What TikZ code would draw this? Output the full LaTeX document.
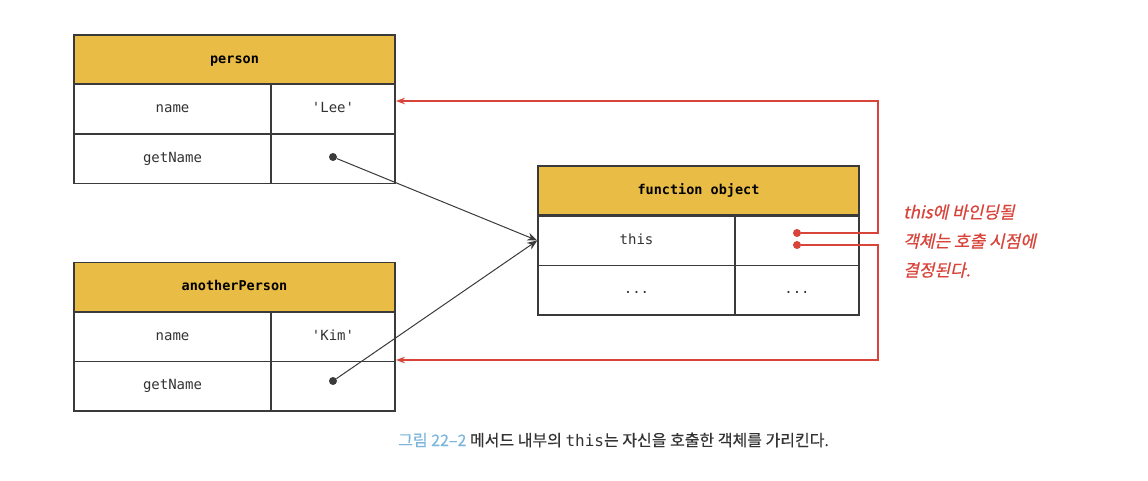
\documentclass[tikz,border=0pt]{standalone}
\usepackage{fontspec}
\setmainfont{Noto Sans CJK KR}
\setmonofont{DejaVu Sans Mono}
\newfontfamily\redkr[FakeSlant=0.22,FakeBold=0.6]{Noto Sans CJK KR}
\newfontfamily\capkr[FakeBold=0.4]{Noto Sans CJK KR}
\usetikzlibrary{arrows.meta}
\definecolor{hdryellow}{HTML}{E9BC45}
\definecolor{lineg}{HTML}{3A3A3A}
\definecolor{redc}{HTML}{D8433A}
\definecolor{capblue}{HTML}{7DB6DD}
\definecolor{txtg}{HTML}{333333}
\tikzset{
  base/.style={draw=lineg, line width=1.5pt, inner sep=0pt, text height=9.5pt, text depth=2.5pt},
  hdr/.style={base, fill=hdryellow, minimum width=321pt, minimum height=49pt, font=\ttfamily\bfseries\fontsize{13.5}{15}\selectfont, text=black},
  lcell/.style={base, fill=white, minimum width=197pt, minimum height=49.5pt, font=\ttfamily\fontsize{14}{16}\selectfont, text=txtg},
  rcell/.style={base, fill=white, minimum width=124pt, minimum height=49.5pt, font=\ttfamily\fontsize{14}{16}\selectfont, text=txtg},
  bdot/.style={circle, fill=lineg, inner sep=0pt, minimum size=8pt},
  rdot/.style={circle, fill=redc, inner sep=0pt, minimum size=8pt},
  blink/.style={draw=lineg, line width=1pt, -{Stealth[length=10pt,width=8pt]}},
  rlink/.style={draw=redc, line width=1.3pt, -{Stealth[length=9pt,width=6.5pt]}},
  rednote/.style={text=redc, font=\redkr\fontsize{17}{20}\selectfont, anchor=west, inner sep=0pt},
}
\begin{document}
\begin{tikzpicture}[x=1pt,y=-1pt]
\useasboundingbox (0,0) rectangle (1148,480);
% person
\node[hdr] (ph) at (234.5,59.5) {person};
\node[lcell] (pnl) at (172.5,109) {name};
\node[rcell] (pnr) at (333,109) {'Lee'};
\node[lcell] (pgl) at (172.5,158.5) {getName};
\node[rcell] (pgr) at (333,158.5) {};
% anotherPerson
\node[hdr] (ah) at (234.5,287) {anotherPerson};
\node[lcell] (anl) at (172.5,336.5) {name};
\node[rcell] (anr) at (333,336.5) {'Kim'};
\node[lcell] (agl) at (172.5,386) {getName};
\node[rcell] (agr) at (333,386) {};
% function object
\node[hdr] (fh) at (698.5,190.5) {function object};
\node[lcell] (ftl) at (636.5,240.5) {this};
\node[rcell] (ftr) at (797,240.5) {};
\node[lcell] (fdl) at (636.5,290) {...};
\node[rcell] (fdr) at (797,290) {...};
% dots
\node[bdot] (d1) at (333,157) {};
\node[bdot] (d2) at (333,381) {};
\node[rdot] (r1) at (797,233) {};
\node[rdot] (r2) at (797,245) {};
% links
\draw[blink] (d1) -- (ftl.west);
\draw[blink] (d2) -- (ftl.west);
\coordinate (a1) at (396,101);
\coordinate (a2) at (396,360);
\draw[rlink] (r1) -- (878,233) -- (878,101) -- (a1);
\draw[rlink] (r2) -- (878,245) -- (878,360) -- (a2);
% note
\node[rednote] (n1) at (903,212) {this에 바인딩될};
\node[rednote] (n2) at (903,241) {객체는 호출 시점에};
\node[rednote] (n3) at (903,270) {결정된다.};
% caption
\node[anchor=west, inner sep=0pt, font=\capkr\fontsize{16}{19}\selectfont, text=txtg] (cap) at (398,440) {\textcolor{capblue}{그림 22–2} 메서드 내부의 {\ttfamily this}는 자신을 호출한 객체를 가리킨다.};
\end{tikzpicture}
\end{document}
